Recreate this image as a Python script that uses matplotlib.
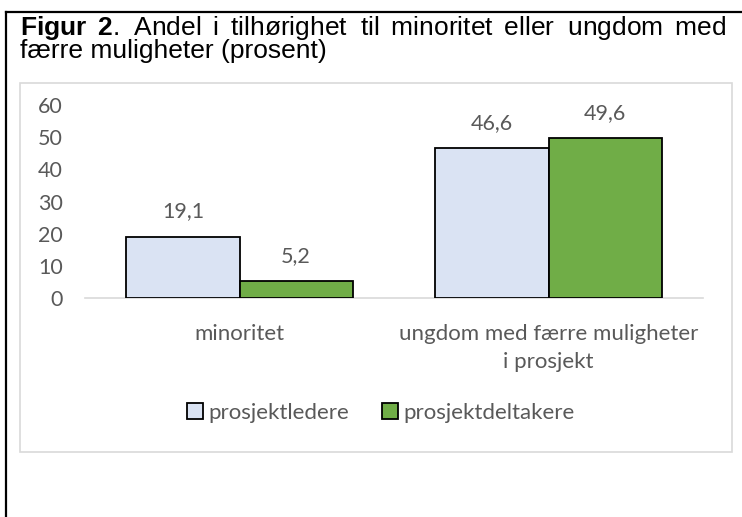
import numpy as np
import matplotlib.pyplot as plt
from matplotlib.patches import Rectangle, Patch
from matplotlib.lines import Line2D

categories = ['minoritet', 'ungdom med færre muligheter\ni prosjekt']
series_names = ['prosjektledere', 'prosjektdeltakere']
ledere = [19.1, 46.6]
deltakere = [5.2, 49.6]
yticks = [0, 10, 20, 30, 40, 50, 60]

title_words = [r'$\mathbf{Figur}$', r'$\mathbf{2}$.', 'Andel', 'i', 'tilhørighet', 'til',
               'minoritet', 'eller', 'ungdom', 'med']
title_line2 = 'færre muligheter (prosent)'

W, H = 742, 517
TXT = '#595959'
plt.rcParams['font.family'] = ['Lato', 'DejaVu Sans']
plt.rcParams['mathtext.fontset'] = 'custom'
plt.rcParams['mathtext.bf'] = 'Liberation Sans:bold'
plt.rcParams['mathtext.rm'] = 'Liberation Sans'

fig = plt.figure(figsize=(W / 100, H / 100), dpi=100)
fig.patch.set_facecolor('white')


def fx(px):
    return px / W


def fy(py):
    return 1 - py / H


# outer black frame (top + left)
fig.add_artist(Line2D([fx(6), fx(742)], [fy(12), fy(12)], color='black', lw=1.6))
fig.add_artist(Line2D([fx(6), fx(6)], [fy(12), fy(517)], color='black', lw=1.6))
# inner chart frame
fig.add_artist(Rectangle((fx(20), fy(452)), fx(732) - fx(20), fy(83) - fy(452),
                         fill=False, edgecolor='#D9D9D9', lw=1.2))

# title: one text, first line justified with spaces + hair spaces
renderer = fig.canvas.get_renderer()
tfont = dict(family=['Liberation Sans', 'DejaVu Sans'], size=19, color='black')


def measure(s):
    t = fig.text(0, 0, s, **tfont)
    w = t.get_window_extent(renderer).width
    t.remove()
    return w


left, right = 20, 729
w_sp = measure('a a') - measure('aa')
w_hair = measure('a\u200aa') - measure('aa')
words_w = sum(measure(w) for w in title_words)
gap = (right - left - words_w) / (len(title_words) - 1)
line1 = title_words[0]
acc = 0.0
for w in title_words[1:]:
    acc += gap
    n = int(acc // w_sp)
    m = int(round((acc - n * w_sp) / w_hair)) if w_hair > 0 else 0
    acc -= n * w_sp + m * w_hair
    line1 += ' ' * n + '\u200a' * m + w
# va='baseline' on a two-line text anchors the last line's baseline
fig.text(fx(left), fy(58), line1 + '\n' + title_line2, ha='left', va='baseline',
         linespacing=0.86, **tfont)

# bar chart
ax = fig.add_axes([fx(85), fy(298), fx(703) - fx(85), fy(105) - fy(298)])
xpos = np.arange(len(categories))
bw = 0.366
b1 = ax.bar(xpos - bw / 2, ledere, bw, color='#DAE3F3', edgecolor='black', lw=1.3, zorder=3)
b2 = ax.bar(xpos + bw / 2, deltakere, bw, color='#70AD47', edgecolor='black', lw=1.3, zorder=3)
for bars in (b1, b2):
    for r in bars:
        v = r.get_height()
        ax.annotate(f'{v:.1f}'.replace('.', ','), (r.get_x() + r.get_width() / 2, v),
                    xytext=(0, 18), textcoords='offset points', ha='center', va='center',
                    fontsize=15.5, color=TXT)

ax.set_xlim(-0.5, 1.5)
ax.set_ylim(0, 60)
ax.set_yticks(yticks)
ax.set_yticklabels([str(t) for t in yticks], fontsize=15.5, color=TXT)
ax.set_xticks(xpos)
ax.set_xticklabels(categories, fontsize=16, color=TXT, linespacing=1.45)
ax.tick_params(axis='both', length=0)
ax.tick_params(axis='y', pad=16)
ax.tick_params(axis='x', pad=19)
for s in ('top', 'right', 'left'):
    ax.spines[s].set_visible(False)
ax.spines['bottom'].set_color('#D9D9D9')
ax.spines['bottom'].set_linewidth(1.2)
ax.patch.set_visible(False)

handles = [Patch(facecolor='#DAE3F3', edgecolor='black', lw=1.3),
           Patch(facecolor='#70AD47', edgecolor='black', lw=1.3)]
fig.legend(handles, series_names, loc='center', bbox_to_anchor=(fx(381), fy(413)),
           ncol=2, frameon=False, fontsize=16, labelcolor=TXT,
           handlelength=0.7, handleheight=0.7, handletextpad=0.25, columnspacing=1.5)

fig.savefig('out.png', dpi=100, facecolor='white')
